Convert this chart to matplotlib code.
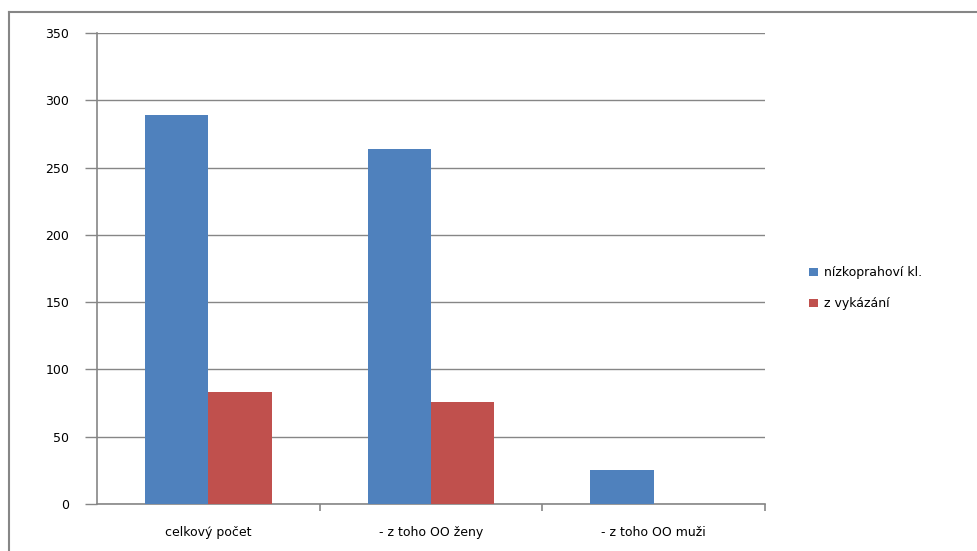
import matplotlib
matplotlib.use("Agg")
import matplotlib.pyplot as plt
import numpy as np
from matplotlib.lines import Line2D

categories = ["celkový počet", "- z toho OO ženy", "- z toho OO muži"]
series_names = ["nízkoprahoví kl.", "z vykázání"]
nizko = [289, 264, 25]
vykaz = [83, 76, 0]
colors = ["#4F81BD", "#C0504D"]

plt.rcParams['font.family'] = ['DejaVu Sans']
fig = plt.figure(figsize=(9.77, 5.51), dpi=100)
W, H = 977, 551
ax = fig.add_axes([97 / W, (551 - 504) / H, (765 - 97) / W, (504 - 33) / H])

x = np.arange(len(categories))
bw = 0.285
ax.bar(x - bw / 2, nizko, width=bw, color=colors[0], label=series_names[0], zorder=3)
ax.bar(x + bw / 2, vykaz, width=bw, color=colors[1], label=series_names[1], zorder=3)

ax.set_xlim(-0.5, len(categories) - 0.5)
ax.set_ylim(0, 350)
ax.set_yticks(np.arange(0, 351, 50))
ax.yaxis.grid(True, color="#868686", linewidth=1, zorder=0)
ax.set_axisbelow(True)

for s in ["top", "right"]:
    ax.spines[s].set_visible(False)
ax.spines["left"].set_color("#868686")
ax.spines["bottom"].set_color("#868686")
ax.spines["left"].set_linewidth(1.2)
ax.spines["bottom"].set_linewidth(1.2)

ax.set_xticks(x)
ax.set_xticklabels(categories, fontsize=9)
ax.set_xticks(np.arange(0.5, len(categories), 1.0), minor=True)
ax.tick_params(axis="x", which="major", length=0, pad=16)
ax.tick_params(axis="x", which="minor", length=5, color="#868686", width=1.2)
ax.tick_params(axis="y", length=9, color="#868686", width=1, pad=11, labelsize=9)

fig.legend(loc="upper left", bbox_to_anchor=(798 / W, 1 - 255 / H), frameon=False,
           fontsize=9, handlelength=0.7, handleheight=0.7, labelspacing=1.45,
           handletextpad=0.5)

# outer border (only top and left edges visible)
fig.add_artist(Line2D([9 / W, 9 / W], [0, 1 - 12 / H], transform=fig.transFigure,
                      color="#868686", linewidth=1.5))
fig.add_artist(Line2D([9 / W, 1], [1 - 12 / H, 1 - 12 / H], transform=fig.transFigure,
                      color="#868686", linewidth=1.5))

fig.savefig("out.png", dpi=100)
